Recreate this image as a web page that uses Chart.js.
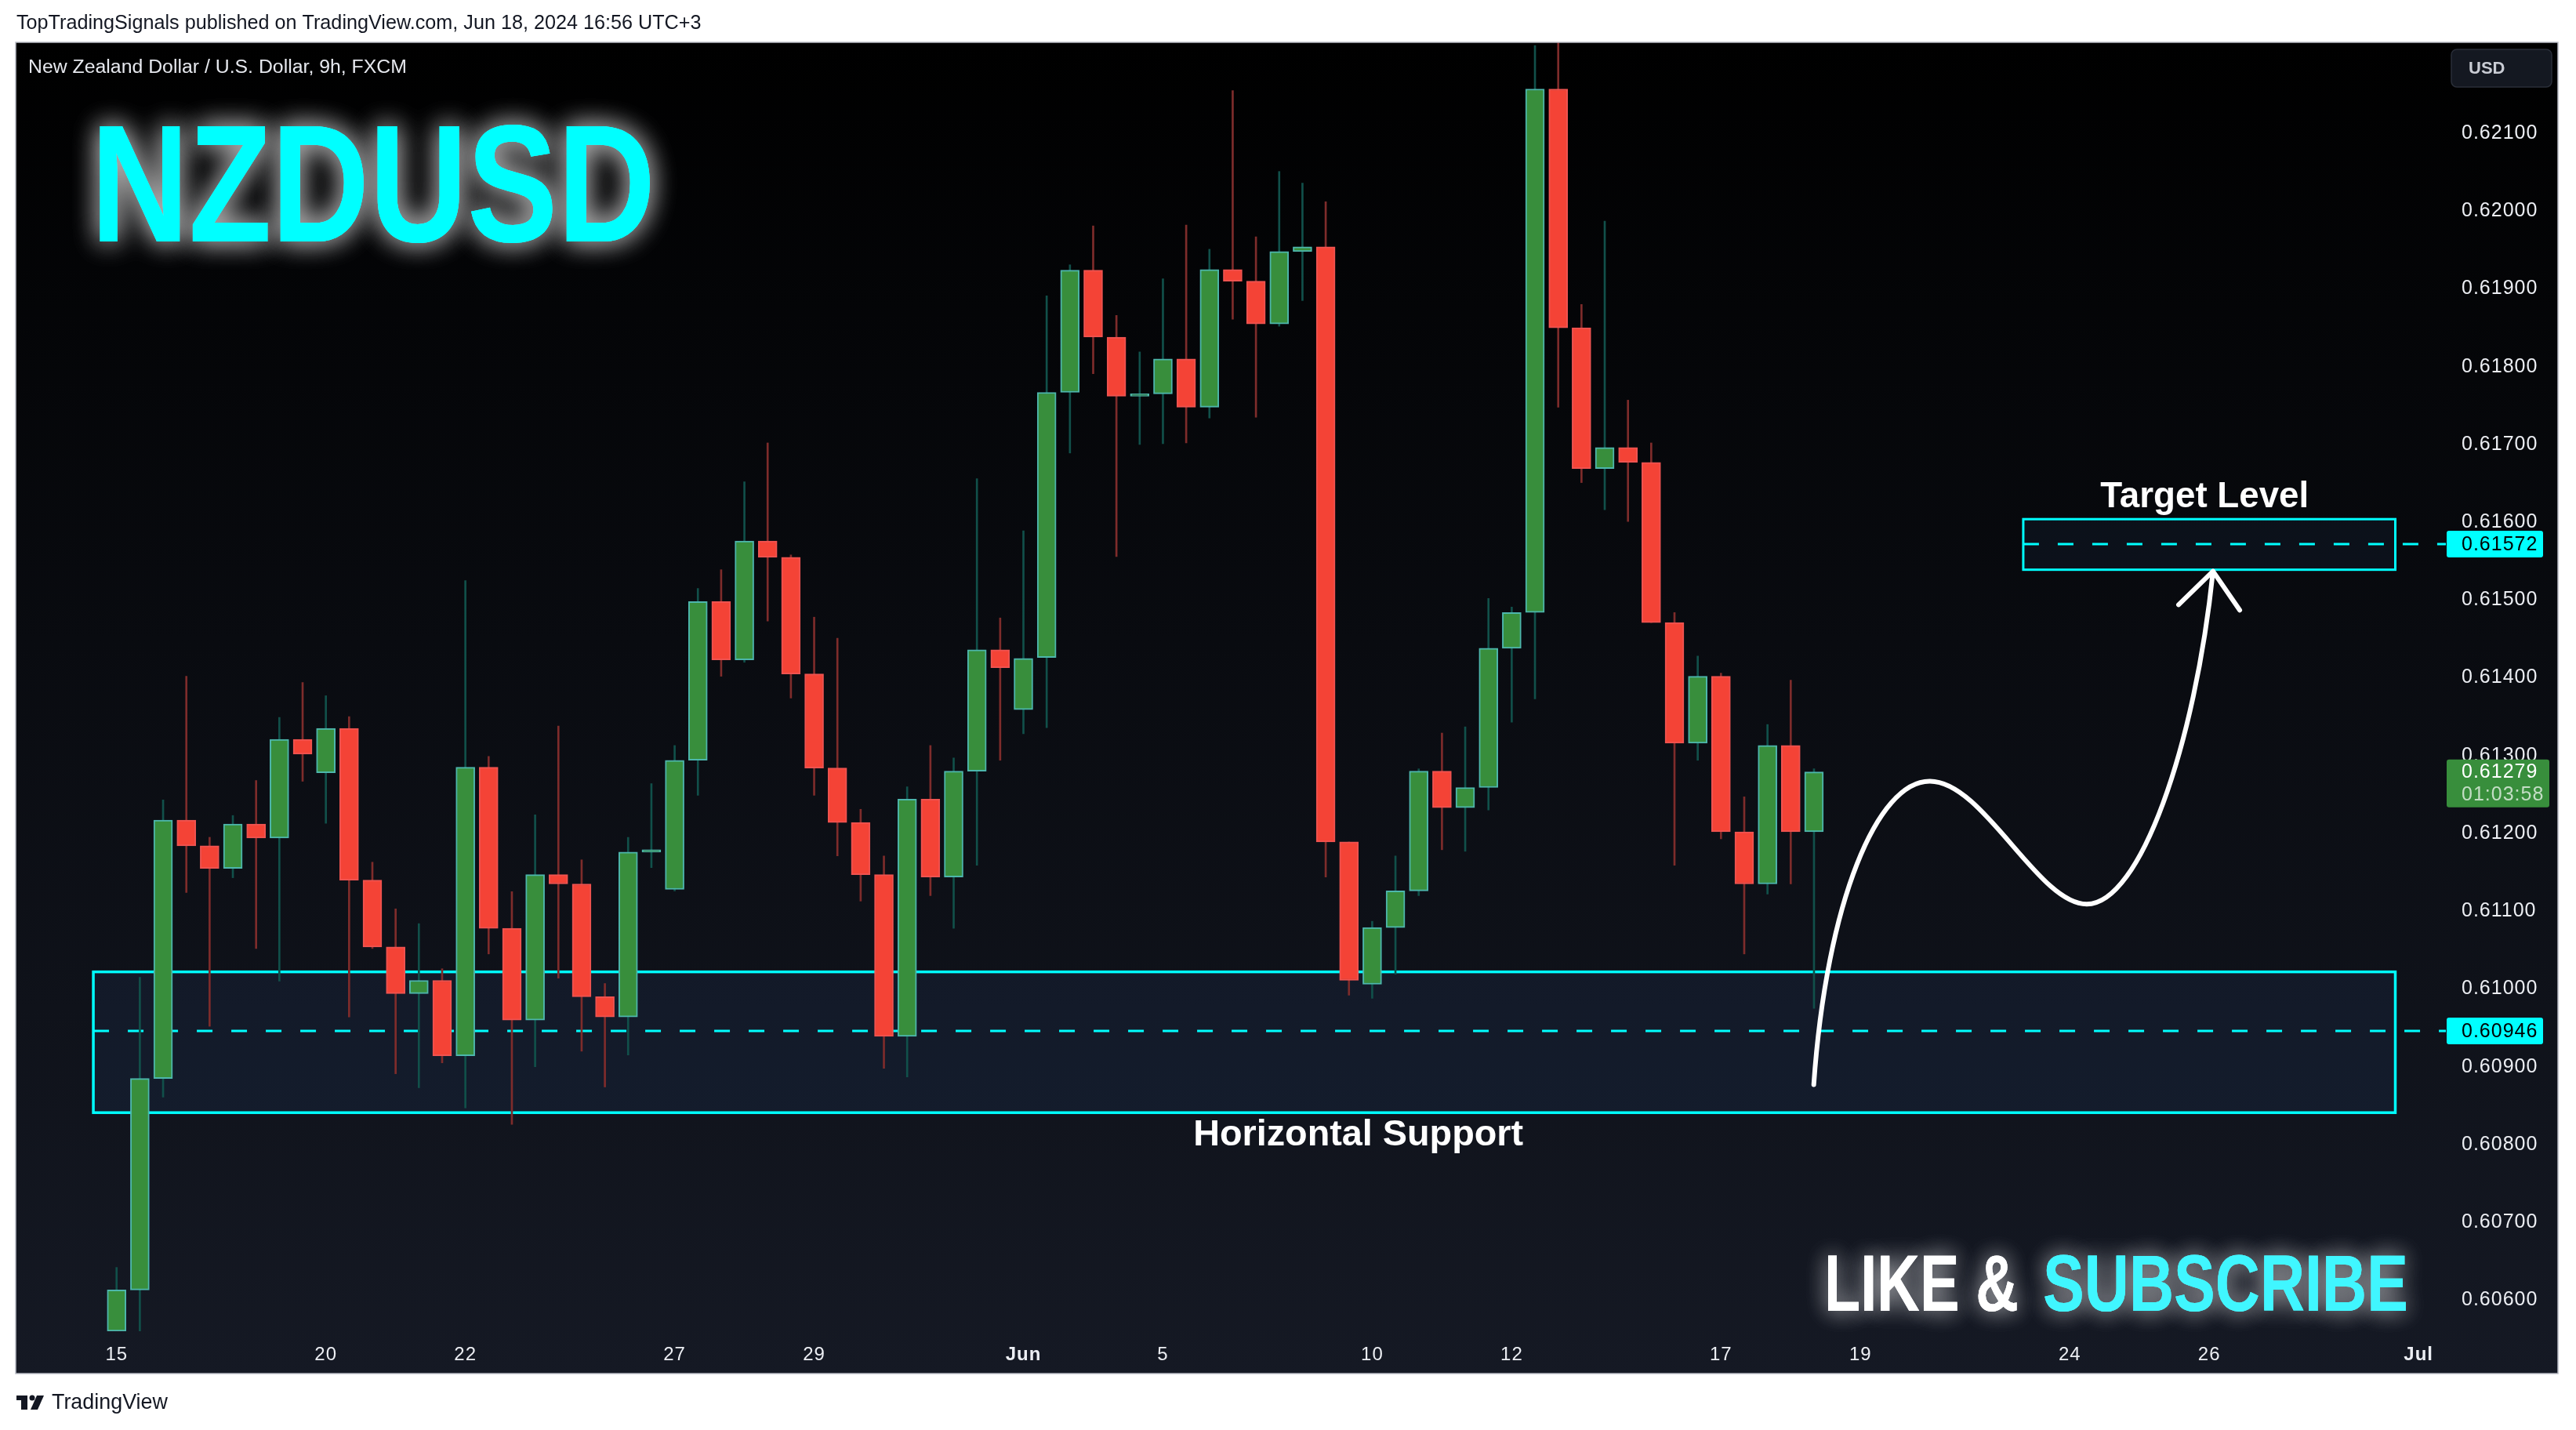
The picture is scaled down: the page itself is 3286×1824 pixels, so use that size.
<!DOCTYPE html>
<html>
<head>
<meta charset="utf-8">
<title>NZDUSD 9h</title>
<style>
html,body{margin:0;padding:0;background:#ffffff;}
canvas{display:block;}
</style>
<script src="https://cdn.jsdelivr.net/npm/chart.js@4.4.1/dist/chart.umd.min.js"></script>
</head>
<body>
<canvas id="myChart" width="3286" height="1824"></canvas>
<script>
// 9h candles, May 15 -> Jun 18 2024 (3 bars per trading day)
var opens = [0.60560,0.60613,0.60885,0.61217,0.61184,0.61155,0.61212,0.61194,0.61321,0.61278,
0.61335,0.61140,0.61054,0.60994,0.61011,0.60914,0.61285,0.61078,0.60960,0.61147,
0.61135,0.60990,0.60964,0.61176,0.61128,0.61294,0.61498,0.61423,0.61576,0.61555,
0.61405,0.61284,0.61214,0.61147,0.60939,0.61244,0.61144,0.61280,0.61436,0.61359,
0.61426,0.61767,0.61924,0.61838,0.61762,0.61765,0.61810,0.61748,0.61925,0.61910,
0.61855,0.61948,0.61954,0.61189,0.61006,0.61079,0.61126,0.61280,0.61233,0.61259,
0.61438,0.61484,0.62157,0.61850,0.61669,0.61696,0.61677,0.61471,0.61316,0.61402,
0.61202,0.61135,0.61313,0.61202];
var highs = [0.60642,0.61015,0.61243,0.61402,0.61195,0.61223,0.61268,0.61349,0.61394,0.61377,
0.61350,0.61163,0.61103,0.61084,0.61026,0.61525,0.61299,0.61125,0.61224,0.61338,
0.61166,0.61007,0.61195,0.61264,0.61313,0.61515,0.61539,0.61652,0.61702,0.61558,
0.61478,0.61451,0.61231,0.61171,0.61260,0.61313,0.61297,0.61656,0.61477,0.61589,
0.61891,0.61931,0.61981,0.61866,0.61819,0.61913,0.61982,0.61951,0.62155,0.61967,
0.62051,0.62036,0.62012,0.61189,0.61087,0.61171,0.61283,0.61329,0.61337,0.61502,
0.61491,0.62213,0.62300,0.61880,0.61987,0.61757,0.61702,0.61484,0.61428,0.61406,
0.61247,0.61340,0.61397,0.61283];
var lows = [0.60550,0.60550,0.60861,0.61124,0.60952,0.61143,0.61052,0.61010,0.61267,0.61213,
0.60964,0.61052,0.60891,0.60873,0.60905,0.60847,0.61045,0.60826,0.60900,0.61014,
0.60920,0.60874,0.60915,0.61156,0.61126,0.61249,0.61402,0.61420,0.61473,0.61374,
0.61249,0.61171,0.61113,0.60898,0.60887,0.61120,0.61078,0.61159,0.61294,0.61328,
0.61336,0.61689,0.61791,0.61556,0.61700,0.61701,0.61702,0.61734,0.61861,0.61735,
0.61852,0.61885,0.61144,0.60992,0.60988,0.61019,0.61120,0.61179,0.61177,0.61230,
0.61343,0.61373,0.61748,0.61651,0.61616,0.61601,0.61471,0.61159,0.61294,0.61193,
0.61045,0.61122,0.61135,0.60975];
var closes = [0.60613,0.60885,0.61217,0.61184,0.61155,0.61212,0.61194,0.61321,0.61302,0.61335,
0.61140,0.61054,0.60994,0.61011,0.60914,0.61285,0.61078,0.60960,0.61147,0.61135,
0.60990,0.60964,0.61176,0.61177,0.61294,0.61498,0.61423,0.61576,0.61555,0.61405,
0.61284,0.61214,0.61147,0.60939,0.61244,0.61144,0.61280,0.61436,0.61413,0.61425,
0.61767,0.61924,0.61838,0.61762,0.61764,0.61810,0.61748,0.61925,0.61910,0.61855,
0.61948,0.61954,0.61189,0.61011,0.61079,0.61126,0.61280,0.61233,0.61259,0.61438,
0.61484,0.62157,0.61850,0.61669,0.61696,0.61677,0.61471,0.61316,0.61402,0.61202,
0.61135,0.61313,0.61202,0.61279];

// time axis: bar index of the first bar of each labelled day
var dayTickIdx = [0, 9, 15, 24, 30, 39, 45, 54, 60, 69, 75, 84, 90, 99];
var dayTickLabels = ["15","20","22","27","29","Jun","5","10","12","17","19","24","26","Jul"];
var priceTicks = [0.606,0.607,0.608,0.609,0.610,0.611,0.612,0.613,0.614,0.615,0.616,0.617,0.618,0.619,0.620,0.621];

// drawings
var supportTop = 0.61022, supportBottom = 0.60841, supportLevel = 0.60946;
var supportFrom = -1, supportTo = 98;
var targetTop = 0.61604, targetBottom = 0.61539, targetLevel = 0.61572;
var targetFrom = 82, targetTo = 98;
var lastPrice = 0.61279, lastTimer = "01:03:58";
// projection path [index, price]: start, then bezier triplets
var pathPts = [[72.99,0.60877],
  [73.54,0.61112],[75.73,0.61268],[77.99,0.61267],
  [80.28,0.61267],[82.64,0.61109],[84.73,0.61109],
  [87.03,0.61109],[89.39,0.61314],[90.16,0.61537]];
var arrowWings = [[88.68,0.61494],[91.31,0.61487]];

var UP = "#388e3c", UP_BORDER = "#4db6ac", UP_WICK = "#11504a";
var DOWN = "#f44336", DOWN_BORDER = "#ef5350", DOWN_WICK = "#7e2c2b";
var FONT = "'Liberation Sans', Arial, sans-serif";

var wickData = [], bodyData = [], wickColors = [], bodyColors = [], borderColors = [];
for (var i = 0; i < opens.length; i++) {
    var up = closes[i] >= opens[i];
    wickData.push({x: i, y: [lows[i], highs[i]]});
    bodyData.push({x: i, y: [opens[i], closes[i]]});
    wickColors.push(up ? UP_WICK : DOWN_WICK);
    bodyColors.push(up ? UP : DOWN);
    borderColors.push(up ? UP_BORDER : DOWN_BORDER);
}

function fitText(ctx, text, x, y, width, weight) {
    ctx.font = weight + " 100px " + FONT;
    var w = ctx.measureText(text).width;
    ctx.font = weight + " " + (100 * width / w).toFixed(2) + "px " + FONT;
    ctx.fillText(text, x, y);
}

// text squeezed horizontally to a given width, baseline at y
function squeezeText(ctx, text, x, y, size, width) {
    ctx.font = "bold " + size + "px " + FONT;
    var w = ctx.measureText(text).width;
    ctx.save();
    ctx.translate(x, y);
    ctx.scale(width / w, 1);
    ctx.fillText(text, 0, 0);
    ctx.restore();
}

function roundRect(ctx, x, y, w, h, r) {
    ctx.beginPath();
    ctx.moveTo(x + r, y);
    ctx.arcTo(x + w, y, x + w, y + h, r);
    ctx.arcTo(x + w, y + h, x, y + h, r);
    ctx.arcTo(x, y + h, x, y, r);
    ctx.arcTo(x, y, x + w, y, r);
    ctx.closePath();
}

const decor = {
    id: "decor",
    beforeDraw(chart) {
        const ctx = chart.ctx;
        const a = chart.chartArea;
        const right = chart.scales.y.right, bottom = chart.scales.x.bottom;
        ctx.save();
        ctx.fillStyle = "#ffffff";
        ctx.fillRect(0, 0, chart.width, chart.height);
        var g = ctx.createLinearGradient(0, a.top, 0, bottom);
        g.addColorStop(0, "#000000");
        g.addColorStop(0.45, "#090b10");
        g.addColorStop(1, "#151924");
        ctx.fillStyle = g;
        ctx.fillRect(a.left, a.top, right - a.left, bottom - a.top);
        ctx.restore();
        // axis labels are a little spaced out
        ctx.letterSpacing = "1px";
    },
    beforeDatasetsDraw(chart) {
        const ctx = chart.ctx;
        ctx.letterSpacing = "0px";
        const x = chart.scales.x, y = chart.scales.y;
        const axisLeft = y.left;
        ctx.save();
        // horizontal support zone
        var sx = x.getPixelForValue(supportFrom), ex = x.getPixelForValue(supportTo);
        var ty = y.getPixelForValue(supportTop), by = y.getPixelForValue(supportBottom);
        ctx.fillStyle = "rgba(50,85,150,0.13)";
        ctx.fillRect(sx, ty, ex - sx, by - ty);
        ctx.strokeStyle = "#00ffff";
        ctx.lineWidth = 3.5;
        ctx.strokeRect(sx, ty, ex - sx, by - ty);
        // target zone
        var tsx = x.getPixelForValue(targetFrom), tex = x.getPixelForValue(targetTo);
        var tty = y.getPixelForValue(targetTop), tby = y.getPixelForValue(targetBottom);
        ctx.fillStyle = "rgba(50,85,150,0.10)";
        ctx.fillRect(tsx, tty, tex - tsx, tby - tty);
        ctx.lineWidth = 3;
        ctx.strokeRect(tsx, tty, tex - tsx, tby - tty);
        // dashed levels
        ctx.setLineDash([20, 24]);
        ctx.lineWidth = 3;
        ctx.beginPath();
        var ly = Math.round(y.getPixelForValue(supportLevel));
        ctx.moveTo(sx, ly); ctx.lineTo(axisLeft + 4, ly);
        ly = Math.round(y.getPixelForValue(targetLevel));
        ctx.moveTo(tsx, ly); ctx.lineTo(axisLeft + 4, ly);
        ctx.stroke();
        ctx.restore();
    },
    afterDatasetsDraw(chart) {
        const ctx = chart.ctx;
        const x = chart.scales.x, y = chart.scales.y;
        function P(pt) { return [x.getPixelForValue(pt[0]), y.getPixelForValue(pt[1])]; }
        ctx.save();
        // projected path with arrow
        ctx.strokeStyle = "#ffffff";
        ctx.lineWidth = 6;
        ctx.lineCap = "round";
        ctx.lineJoin = "round";
        ctx.beginPath();
        var p0 = P(pathPts[0]);
        ctx.moveTo(p0[0], p0[1]);
        for (var k = 1; k + 2 < pathPts.length + 1; k += 3) {
            var c1 = P(pathPts[k]), c2 = P(pathPts[k + 1]), e = P(pathPts[k + 2]);
            ctx.bezierCurveTo(c1[0], c1[1], c2[0], c2[1], e[0], e[1]);
        }
        ctx.stroke();
        var tip = P(pathPts[pathPts.length - 1]);
        var w1 = P(arrowWings[0]), w2 = P(arrowWings[1]);
        ctx.beginPath();
        ctx.moveTo(w1[0], w1[1]); ctx.lineTo(tip[0], tip[1]); ctx.lineTo(w2[0], w2[1]);
        ctx.stroke();

        // zone captions
        ctx.fillStyle = "#ffffff";
        ctx.textAlign = "center";
        ctx.textBaseline = "middle";
        fitText(ctx, "Target Level", x.getPixelForValue(89.8), y.getPixelForValue(targetTop) - 28, 266, "bold");
        fitText(ctx, "Horizontal Support", x.getPixelForValue(53.4), y.getPixelForValue(supportBottom) + 29, 421, "bold");

        // glowing headline
        ctx.textAlign = "left";
        ctx.textBaseline = "alphabetic";
        ctx.shadowColor = "rgba(255,255,255,0.55)";
        ctx.shadowBlur = 34;
        ctx.fillStyle = "#00ffff";
        for (var n = 0; n < 2; n++) squeezeText(ctx, "NZDUSD", 116, 308, 213, 720);
        ctx.shadowColor = "rgba(255,255,255,0.42)";
        ctx.shadowBlur = 28;
        for (n = 0; n < 2; n++) {
            ctx.fillStyle = "#ffffff";
            squeezeText(ctx, "LIKE &", 2327, 1672, 102, 248);
            ctx.fillStyle = "#40f6ff";
            squeezeText(ctx, "SUBSCRIBE", 2606, 1672, 102, 466);
        }
        ctx.shadowBlur = 0;
        ctx.shadowColor = "transparent";

        // price tags on the axis
        var tx = y.left + 5;
        ctx.font = "25px " + FONT;
        ctx.letterSpacing = "1px";
        ctx.textBaseline = "middle";
        [[targetLevel], [supportLevel]].forEach(function (t) {
            var cy = y.getPixelForValue(t[0]);
            ctx.fillStyle = "#00ffff";
            roundRect(ctx, tx, cy - 17, 123, 34, 3);
            ctx.fill();
            ctx.fillStyle = "#000000";
            ctx.fillText(t[0].toFixed(5), tx + 19, cy + 1);
        });
        var cy = y.getPixelForValue(lastPrice);
        ctx.fillStyle = "#388e3c";
        roundRect(ctx, tx, cy - 16, 131, 61, 3);
        ctx.fill();
        ctx.fillStyle = "#ffffff";
        ctx.fillText(lastPrice.toFixed(5), tx + 19, cy);
        ctx.fillStyle = "rgba(255,255,255,0.7)";
        ctx.fillText(lastTimer, tx + 19, cy + 29);
        ctx.letterSpacing = "0px";
        ctx.restore();
    },
    afterDraw(chart) {
        const ctx = chart.ctx;
        const a = chart.chartArea;
        const right = chart.scales.y.right, bottom = chart.scales.x.bottom;
        ctx.save();
        ctx.strokeStyle = "#b8bbc4";
        ctx.lineWidth = 1.5;
        ctx.strokeRect(a.left, a.top, right - a.left, bottom - a.top);

        ctx.textBaseline = "middle";
        ctx.fillStyle = "#131722";
        fitText(ctx, "TopTradingSignals published on TradingView.com, Jun 18, 2024 16:56 UTC+3", 21, 30, 874, "normal");
        ctx.fillStyle = "#e6e8ee";
        fitText(ctx, "New Zealand Dollar / U.S. Dollar, 9h, FXCM", 36, 86, 483, "normal");

        // currency badge
        roundRect(ctx, 3127, 63, 128, 48, 7);
        ctx.fillStyle = "#141821";
        ctx.fill();
        ctx.strokeStyle = "#2a2e39";
        ctx.lineWidth = 1.5;
        ctx.stroke();
        ctx.fillStyle = "#c9ccd4";
        ctx.font = "bold 22px " + FONT;
        ctx.fillText("USD", 3149, 88);

        // footer logo
        ctx.fillStyle = "#131722";
        ctx.fillRect(21, 1780, 14, 6);
        ctx.fillRect(27, 1780, 8, 18);
        ctx.beginPath();
        ctx.arc(41, 1783, 3.5, 0, Math.PI * 2);
        ctx.fill();
        ctx.beginPath();
        ctx.moveTo(47, 1780); ctx.lineTo(56, 1780); ctx.lineTo(48, 1798); ctx.lineTo(39, 1798);
        ctx.closePath();
        ctx.fill();
        fitText(ctx, "TradingView", 66, 1790, 148, "normal");
        ctx.restore();
    }
};

const config = {
    type: "bar",
    data: {
        datasets: [
            {
                label: "Body",
                data: bodyData,
                backgroundColor: bodyColors,
                borderColor: borderColors,
                borderWidth: 2,
                borderSkipped: false,
                barThickness: 24,
                minBarLength: 3,
                grouped: false,
                order: 0
            },
            {
                label: "Wick",
                data: wickData,
                backgroundColor: wickColors,
                borderWidth: 0,
                barThickness: 2,
                grouped: false,
                order: 1
            }
        ]
    },
    options: {
        responsive: false,
        animation: false,
        devicePixelRatio: 1,
        layout: { padding: { left: 20, top: 54, right: 23, bottom: 72 } },
        plugins: {
            legend: { display: false },
            tooltip: { enabled: false },
            title: { display: false }
        },
        scales: {
            x: {
                type: "linear",
                min: -4.34,
                max: 100.04,
                offset: false,
                grid: { display: false, drawTicks: false },
                border: { display: false },
                afterBuildTicks: function (scale) {
                    scale.ticks = dayTickIdx.map(function (v) { return {value: v}; });
                },
                afterFit: function (scale) { scale.height = 54; },
                ticks: {
                    autoSkip: false,
                    maxRotation: 0,
                    padding: 16,
                    color: "#eceef3",
                    font: function (c) {
                        var lab = c.tick ? dayTickLabels[dayTickIdx.indexOf(c.tick.value)] : "";
                        return { family: FONT, size: 24, weight: (lab === "Jun" || lab === "Jul") ? "bold" : "normal" };
                    },
                    callback: function (v) { return dayTickLabels[dayTickIdx.indexOf(v)]; }
                }
            },
            y: {
                position: "right",
                min: 0.60560,
                max: 0.62217,
                grid: { display: false, drawTicks: false },
                border: { display: false },
                afterBuildTicks: function (scale) {
                    scale.ticks = priceTicks.map(function (v) { return {value: v}; });
                },
                afterFit: function (scale) { scale.width = 147; },
                ticks: {
                    padding: 24,
                    color: "#eceef3",
                    font: { family: FONT, size: 25 },
                    callback: function (v) { return Number(v).toFixed(5); }
                }
            }
        }
    },
    plugins: [decor]
};

let mychart = new Chart(document.getElementById("myChart").getContext("2d"), config);
</script>
</body>
</html>
